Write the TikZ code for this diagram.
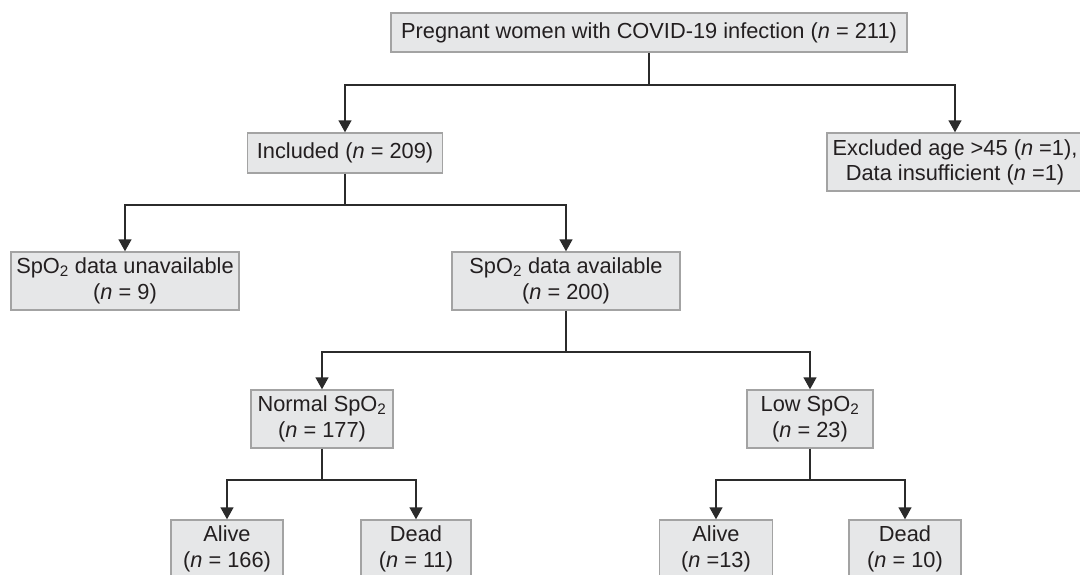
\documentclass[tikz,border=0pt]{standalone}
\usepackage{fontspec}
\setmainfont{Liberation Sans}
\usetikzlibrary{arrows.meta}
\definecolor{boxfill}{HTML}{E6E7E8}
\definecolor{boxline}{HTML}{A3A3A3}
\definecolor{connc}{HTML}{2B2B2B}
\definecolor{txt}{HTML}{231F20}
\begin{document}
\begin{tikzpicture}[x=1pt,y=-1pt,
  box/.style={draw=boxline, fill=boxfill, line width=1.4pt, inner sep=0pt,
    align=center, font=\fontsize{21.8}{26.5}\selectfont, text=txt, minimum height=58pt},
  conn/.style={draw=connc, line width=1.4pt},
  arr/.style={conn, -{Triangle[width=13pt,length=12pt]}}]
\useasboundingbox (0,0) rectangle (1080,574);
\clip (0,0) rectangle (1080,574);

\node[box, minimum width=516pt, minimum height=39pt] (top) at (649,32.5)
  {Pregnant women with COVID-19 infection (\textit{n} = 211)};
\node[box, minimum width=195pt, minimum height=40pt] (incl) at (345,153)
  {Included (\textit{n} = 209)};
\node[box, minimum width=256pt, font=\fontsize{21.8}{25}\selectfont] (excl) at (955,162)
  {Excluded age >45 (\textit{n} =1),\\Data insufficient (\textit{n} =1)};
\node[box, minimum width=228pt] (unav) at (125,281)
  {SpO\textsubscript{2} data unavailable\\(\textit{n} = 9)};
\node[box, minimum width=228pt] (avail) at (566,281)
  {SpO\textsubscript{2} data available\\(\textit{n} = 200)};
\node[box, minimum width=142pt] (normal) at (322,419)
  {Normal SpO\textsubscript{2}\\(\textit{n} = 177)};
\node[box, minimum width=126pt] (low) at (810,419)
  {Low SpO\textsubscript{2}\\(\textit{n} = 23)};
\node[box, minimum width=112pt] (alive1) at (227,549)
  {Alive\\(\textit{n} = 166)};
\node[box, minimum width=110pt] (dead1) at (416,549)
  {Dead\\(\textit{n} = 11)};
\node[box, minimum width=113pt] (alive2) at (716,549)
  {Alive\\(\textit{n} =13)};
\node[box, minimum width=112pt] (dead2) at (905,549)
  {Dead\\(\textit{n} = 10)};

\coordinate (j1) at (649,85);
\coordinate (j2) at (345,205);
\coordinate (j3) at (566,352);
\coordinate (j4) at (322,480);
\coordinate (j5) at (810,480);

\draw[conn] (top.south) -- (j1);
\draw[arr] (j1) -| (incl.north);
\draw[arr] (j1) -| (excl.north);

\draw[conn] (incl.south) -- (j2);
\draw[arr] (j2) -| (unav.north);
\draw[arr] (j2) -| (avail.north);

\draw[conn] (avail.south) -- (j3);
\draw[arr] (j3) -| (normal.north);
\draw[arr] (j3) -| (low.north);

\draw[conn] (normal.south) -- (j4);
\draw[arr] (j4) -| (alive1.north);
\draw[arr] (j4) -| (dead1.north);

\draw[conn] (low.south) -- (j5);
\draw[arr] (j5) -| (alive2.north);
\draw[arr] (j5) -| (dead2.north);
\end{tikzpicture}
\end{document}
